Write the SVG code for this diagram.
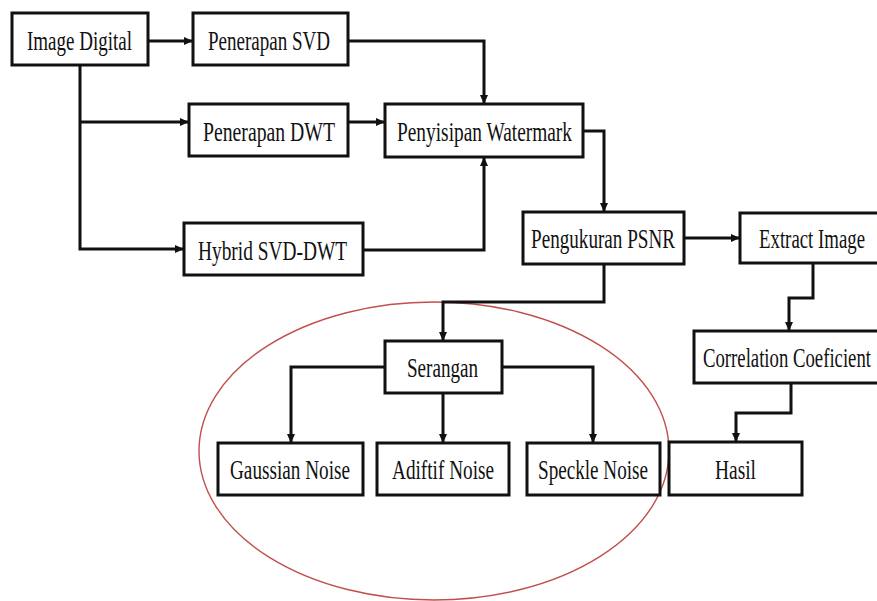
<svg xmlns="http://www.w3.org/2000/svg" width="877" height="601" viewBox="0 0 877 601">
<style>
.box{fill:#fff;stroke:#111;stroke-width:3}
.lbl{font-family:"Liberation Serif","Times New Roman",serif;font-size:27px;fill:#111;text-anchor:middle}
.con{fill:none;stroke:#111;stroke-width:3}
</style>
<defs>
<marker id="ah" markerUnits="userSpaceOnUse" markerWidth="9" markerHeight="8" refX="9" refY="4" orient="auto">
<path d="M0,0 L9,4 L0,8 z" fill="#111"/>
</marker>
</defs>
<rect width="877" height="601" fill="#fff"/>
<ellipse cx="434" cy="451" rx="235" ry="149" fill="none" stroke="#c0504d" stroke-width="1.4"/>
<g id="connectors">
<path class="con" d="M148,41 H193" marker-end="url(#ah)"/>
<path class="con" d="M348,41 H484 V104" marker-end="url(#ah)"/>
<path class="con" d="M80,65 V249 H184" marker-end="url(#ah)"/>
<path class="con" d="M80,122 H189" marker-end="url(#ah)"/>
<path class="con" d="M348,122 H385" marker-end="url(#ah)"/>
<path class="con" d="M363,250 H484 V157" marker-end="url(#ah)"/>
<path class="con" d="M583,131 H604 V212" marker-end="url(#ah)"/>
<path class="con" d="M684,238 H740" marker-end="url(#ah)"/>
<path class="con" d="M604,264 V302 H443 V341" marker-end="url(#ah)"/>
<path class="con" d="M385,367 H291 V443" marker-end="url(#ah)"/>
<path class="con" d="M502,367 H593 V443" marker-end="url(#ah)"/>
<path class="con" d="M443,393 V443" marker-end="url(#ah)"/>
<path class="con" d="M813,263 V298 H789 V331" marker-end="url(#ah)"/>
<path class="con" d="M791,383 V413 H736 V442" marker-end="url(#ah)"/>
</g>
<g id="image-digital"><rect class="box" x="12" y="13" width="136" height="52"/><text class="lbl" x="79.5" y="50" textLength="105" lengthAdjust="spacingAndGlyphs">Image Digital</text></g>
<g id="penerapan-svd"><rect class="box" x="193" y="13" width="155" height="52"/><text class="lbl" x="269" y="50" textLength="122" lengthAdjust="spacingAndGlyphs">Penerapan SVD</text></g>
<g id="penerapan-dwt"><rect class="box" x="189" y="104" width="159" height="52"/><text class="lbl" x="269" y="141" textLength="132" lengthAdjust="spacingAndGlyphs">Penerapan DWT</text></g>
<g id="hybrid"><rect class="box" x="184" y="223" width="179" height="52"/><text class="lbl" x="272.5" y="260" textLength="149" lengthAdjust="spacingAndGlyphs">Hybrid SVD-DWT</text></g>
<g id="penyisipan"><rect class="box" x="385" y="104" width="198" height="53"/><text class="lbl" x="484.5" y="141" textLength="175" lengthAdjust="spacingAndGlyphs">Penyisipan Watermark</text></g>
<g id="psnr"><rect class="box" x="523" y="212" width="161" height="52"/><text class="lbl" x="603" y="248" textLength="144" lengthAdjust="spacingAndGlyphs">Pengukuran PSNR</text></g>
<g id="extract"><rect class="box" x="740" y="213" width="140" height="50"/><text class="lbl" x="812" y="248" textLength="106" lengthAdjust="spacingAndGlyphs">Extract Image</text></g>
<g id="correlation"><rect class="box" x="694" y="331" width="186" height="52"/><text class="lbl" x="787" y="367" textLength="168" lengthAdjust="spacingAndGlyphs">Correlation Coeficient</text></g>
<g id="serangan"><rect class="box" x="385" y="341" width="117" height="52"/><text class="lbl" x="442.5" y="377" textLength="71" lengthAdjust="spacingAndGlyphs">Serangan</text></g>
<g id="gaussian"><rect class="box" x="218" y="443" width="145" height="52"/><text class="lbl" x="290" y="479" textLength="120" lengthAdjust="spacingAndGlyphs">Gaussian Noise</text></g>
<g id="adiftif"><rect class="box" x="377" y="443" width="132" height="52"/><text class="lbl" x="443" y="479" textLength="102" lengthAdjust="spacingAndGlyphs">Adiftif Noise</text></g>
<g id="speckle"><rect class="box" x="527" y="443" width="133" height="52"/><text class="lbl" x="593" y="479" textLength="110" lengthAdjust="spacingAndGlyphs">Speckle Noise</text></g>
<g id="hasil"><rect class="box" x="669" y="442" width="133" height="53"/><text class="lbl" x="735.5" y="479" textLength="41" lengthAdjust="spacingAndGlyphs">Hasil</text></g>
</svg>
